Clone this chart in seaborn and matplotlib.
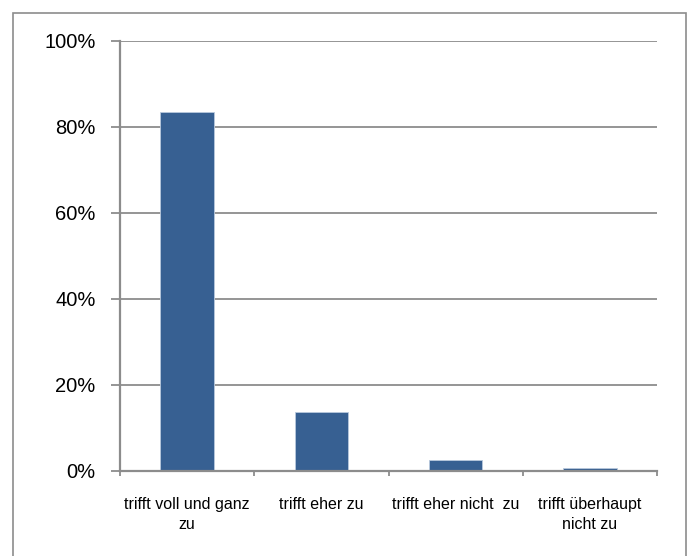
import matplotlib
matplotlib.use("Agg")
import matplotlib.pyplot as plt
import seaborn as sns
import pandas as pd
from matplotlib.patches import Rectangle
from matplotlib.ticker import FuncFormatter, FixedLocator

categories = ["trifft voll und ganz\nzu", "trifft eher zu", "trifft eher nicht  zu", "trifft überhaupt\nnicht zu"]
values = [83.4, 13.6, 2.5, 0.6]
y_ticks = [0, 20, 40, 60, 80, 100]

sns.set_style("white")
plt.rcParams['font.family'] = ['Liberation Sans', 'DejaVu Sans']
plt.rcParams['text.color'] = 'black'
plt.rcParams['xtick.labelcolor'] = 'black'
plt.rcParams['ytick.labelcolor'] = 'black'

df = pd.DataFrame({"cat": categories, "val": values})

fig = plt.figure(figsize=(6.88, 5.56), dpi=100)
ax = fig.add_axes([120/688, 1-470.5/556, (657-120)/688, (470.5-41)/556])

grid_c = "#8c8c8c"
sns.barplot(data=df, x="cat", y="val", color="#376092", saturation=1, width=0.40,
            edgecolor="#b9c9dd", linewidth=0.6, ax=ax, zorder=3)

ax.set_ylim(0, 100)
ax.set_xlim(-0.5, 3.5)
ax.set_yticks(y_ticks)
ax.yaxis.set_major_formatter(FuncFormatter(lambda v, p: f"{v:.0f}%"))
ax.grid(axis="y", color=grid_c, linewidth=1.3, zorder=0)
ax.set_axisbelow(True)

# x ticks at category boundaries, labels at centers
ax.xaxis.set_major_locator(FixedLocator([-0.5, 0.5, 1.5, 2.5, 3.5]))
ax.xaxis.set_major_formatter(FuncFormatter(lambda v, p: ""))
ax.xaxis.set_minor_locator(FixedLocator([0, 1, 2, 3]))
ax.set_xticklabels(categories, minor=True)
ax.tick_params(axis="x", which="major", direction="out", length=3.5, width=1.3, color=grid_c, bottom=True)
ax.tick_params(axis="x", which="minor", length=0, pad=19, labelsize=11.5, bottom=True, labelcolor="black")
for lab in ax.get_xticklabels(minor=True):
    lab.set_linespacing(1.45)
    lab.set_verticalalignment("top")
ax.tick_params(axis="y", direction="out", length=6.5, width=1.3, color=grid_c, pad=11, labelsize=14.5,
               left=True, labelcolor="black")

ax.set_xlabel("")
ax.set_ylabel("")
for s in ["top", "right"]:
    ax.spines[s].set_visible(False)
for s in ["left", "bottom"]:
    ax.spines[s].set_color(grid_c)
    ax.spines[s].set_linewidth(1.6)
    ax.spines[s].set_zorder(4)

fig.patches.append(Rectangle((13/688, -0.05), (686-13)/688, 1-13/556+0.05,
                             transform=fig.transFigure, fill=False,
                             edgecolor="#8c8c8c", linewidth=1.2))

fig.savefig("out.png", dpi=100)
